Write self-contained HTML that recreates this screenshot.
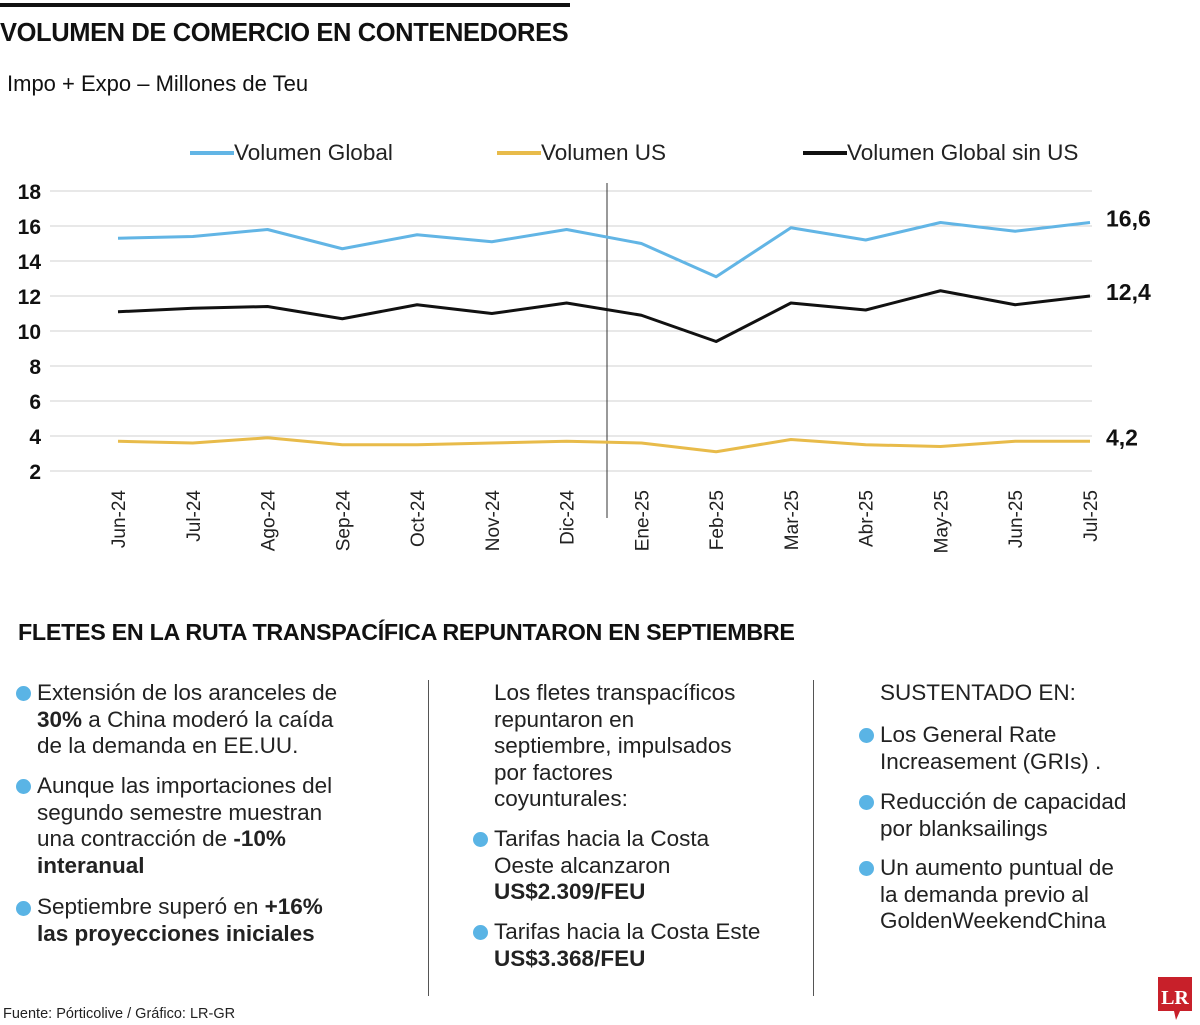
<!DOCTYPE html>
<html><head><meta charset="utf-8">
<style>
body{margin:0;width:1200px;height:1025px;background:#fff;position:relative;overflow:hidden;font-family:"Liberation Sans",sans-serif;color:#111}
.a{position:absolute;white-space:nowrap}
.t{font-size:22.5px;line-height:26.5px;color:#222}
.b{font-weight:bold}
.dot{position:absolute;width:15px;height:15px;border-radius:50%;background:#5ab4e5}
.sep{position:absolute;width:1px;background:#555}
</style></head><body>
<div class="a" style="left:0;top:3px;width:570px;height:4px;background:#111"></div>
<div class="a b" style="left:0;top:19px;font-size:25.5px;letter-spacing:-0.4px">VOLUMEN DE COMERCIO EN CONTENEDORES</div>
<div class="a" style="left:7px;top:71px;font-size:22px">Impo + Expo – Millones de Teu</div>

<svg class="a" style="left:0;top:0" width="1200" height="600" id="chart"></svg>

<div class="a b" style="left:18px;top:619px;font-size:23.3px;letter-spacing:-0.3px">FLETES EN LA RUTA TRANSPACÍFICA REPUNTARON EN SEPTIEMBRE</div>

<div class="sep" style="left:428px;top:680px;height:316px"></div>
<div class="sep" style="left:813px;top:680px;height:316px"></div>

<div class="dot" style="left:16px;top:686px"></div>
<div class="a t" style="left:37px;top:680px">Extensión de los aranceles de<br><b>30%</b> a China moderó la caída<br>de la demanda en EE.UU.</div>
<div class="dot" style="left:16px;top:779px"></div>
<div class="a t" style="left:37px;top:773px">Aunque las importaciones del<br>segundo semestre muestran<br>una contracción de <b>-10%</b><br><b>interanual</b></div>
<div class="dot" style="left:16px;top:901px"></div>
<div class="a t" style="left:37px;top:894px">Septiembre superó en <b>+16%</b><br><b>las proyecciones iniciales</b></div>

<div class="a t" style="left:494px;top:680px">Los fletes transpacíficos<br>repuntaron en<br>septiembre, impulsados<br>por factores<br>coyunturales:</div>
<div class="dot" style="left:473px;top:832px"></div>
<div class="a t" style="left:494px;top:826px">Tarifas hacia la Costa<br>Oeste alcanzaron<br><b>US$2.309/FEU</b></div>
<div class="dot" style="left:473px;top:925px"></div>
<div class="a t" style="left:494px;top:919px">Tarifas hacia la Costa Este<br><b>US$3.368/FEU</b></div>

<div class="a t" style="left:880px;top:680px">SUSTENTADO EN:</div>
<div class="dot" style="left:859px;top:728px"></div>
<div class="a t" style="left:880px;top:722px">Los General Rate<br>Increasement (GRIs) .</div>
<div class="dot" style="left:859px;top:795px"></div>
<div class="a t" style="left:880px;top:789px">Reducción de capacidad<br>por blanksailings</div>
<div class="dot" style="left:859px;top:861px"></div>
<div class="a t" style="left:880px;top:855px">Un aumento puntual de<br>la demanda previo al<br>GoldenWeekendChina</div>

<div class="a" style="left:3px;top:1006px;font-size:14.5px;color:#222">Fuente: Pórticolive / Gráfico: LR-GR</div>
<svg class="a" style="left:1156px;top:975px" width="38" height="48"><path d="M2 2H36V36H24L20 45L18 36H2Z" fill="#c8202a"/><text x="19" y="29" text-anchor="middle" font-family="Liberation Serif,serif" font-weight="bold" font-size="20" fill="#fff">LR</text></svg>

<script>
const categories=["Jun-24","Jul-24","Ago-24","Sep-24","Oct-24","Nov-24","Dic-24","Ene-25","Feb-25","Mar-25","Abr-25","May-25","Jun-25","Jul-25"];
const globalVals=[15.3,15.4,15.8,14.7,15.5,15.1,15.8,15.0,13.1,15.9,15.2,16.2,15.7,16.2];
const usVals=[3.7,3.6,3.9,3.5,3.5,3.6,3.7,3.6,3.1,3.8,3.5,3.4,3.7,3.7];
const sinUsVals=[11.1,11.3,11.4,10.7,11.5,11.0,11.6,10.9,9.4,11.6,11.2,12.3,11.5,12.0];
const yTicks=[2,4,6,8,10,12,14,16,18];
const endLabels=["16,6","12,4","4,2"];
const NS="http://www.w3.org/2000/svg";
const svg=document.getElementById('chart');
const x=i=>118+i*(1090-118)/(categories.length-1);
const y=v=>471-(v-2)*17.5;
function el(t,a){const e=document.createElementNS(NS,t);for(const k in a)e.setAttribute(k,a[k]);svg.appendChild(e);return e;}
yTicks.forEach(v=>{
  const l=el('line',{x1:50,x2:1092,y1:y(v),y2:y(v),stroke:'#d0d0d0','stroke-width':1});
  
  
  const t=el('text',{x:41,y:y(v)+8,'text-anchor':'end','font-size':21,'font-weight':'bold','font-family':'Liberation Sans,sans-serif',fill:'#111'});
  t.textContent=v;
  
  
});
const vl=el('line',{x1:607,x2:607,y1:183,y2:518,stroke:'#333','stroke-width':1});


categories.forEach((c,i)=>{
  const t=el('text',{transform:`translate(${x(i)+7},490) rotate(-90)`,'text-anchor':'end','font-size':19,'font-family':'Liberation Sans,sans-serif',fill:'#222'});
  t.textContent=c;
  
  
});
const series=[[globalVals,'#62b5e5','series-global'],[sinUsVals,'#111','series-global-sin-us'],[usVals,'#e8bb4a','series-us']];
series.forEach(([vals,col,name],si)=>{
  const p=el('polyline',{points:vals.map((v,i)=>x(i)+','+y(v)).join(' '),fill:'none',stroke:col,'stroke-width':3,'stroke-linejoin':'round'});
  
  
  const t=el('text',{x:1106,y:y(vals[vals.length-1])+4,'font-size':23,'font-weight':'bold','font-family':'Liberation Sans,sans-serif',fill:'#111'});
  t.textContent=endLabels[si];
  
  
});
[[190,'#62b5e5','Volumen Global'],[497,'#e8bb4a','Volumen US'],[803,'#111','Volumen Global sin US']].forEach(([lx,col,txt])=>{
  const l=el('line',{x1:lx,x2:lx+44,y1:153,y2:153,stroke:col,'stroke-width':4});
  
  
  const t=el('text',{x:lx+44,y:160,'font-size':22.5,'font-family':'Liberation Sans,sans-serif',fill:'#222'});
  t.textContent=txt;
  
  
});
</script>
</body></html>
